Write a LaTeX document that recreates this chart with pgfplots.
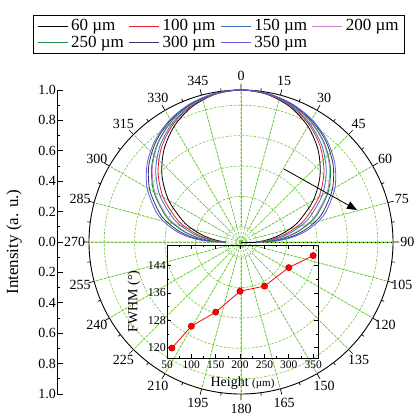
\documentclass[border=0pt]{standalone}
\usepackage{fontspec}
\setmainfont{Liberation Serif}
\usepackage{pgfplots}
\pgfplotsset{compat=1.18}
\usepackage{pgfplotstable}
\usepgfplotslibrary{polar}
\usetikzlibrary{arrows.meta}

\definecolor{gridgreen}{RGB}{110,200,60}
\definecolor{c60}{RGB}{0,0,0}
\definecolor{c100}{RGB}{235,30,50}
\definecolor{c150}{RGB}{60,110,200}
\definecolor{c200}{RGB}{200,130,200}
\definecolor{c250}{RGB}{30,140,70}
\definecolor{c300}{RGB}{50,50,110}
\definecolor{c350}{RGB}{100,90,220}

\pgfplotstableread{
phi a b c d e f g
0 0.1 0.1 0.1 0.1 0.1 0.1 0.1
1 0.1157 0.1264 0.1356 0.1533 0.1584 0.1800 0.1963
3 0.1471 0.1687 0.1855 0.2148 0.2227 0.2542 0.2766
6 0.1941 0.2256 0.2485 0.2861 0.2958 0.3332 0.3587
10 0.2563 0.2956 0.3226 0.3652 0.3758 0.4159 0.4424
15 0.3329 0.3769 0.4061 0.4504 0.4612 0.5011 0.5268
20 0.4078 0.4531 0.4823 0.5256 0.5360 0.5738 0.5978
30 0.5500 0.5917 0.6176 0.6548 0.6635 0.6946 0.7139
40 0.6785 0.7122 0.7325 0.7611 0.7677 0.7910 0.8052
50 0.7894 0.8134 0.8276 0.8472 0.8517 0.8674 0.8769
60 0.8794 0.8939 0.9024 0.9140 0.9167 0.9258 0.9313
70 0.9457 0.9525 0.9564 0.9618 0.9630 0.9671 0.9696
80 0.9863 0.9881 0.9891 0.9904 0.9907 0.9918 0.9924
90 1 1 1 1 1 1 1
100 0.9863 0.9881 0.9891 0.9904 0.9907 0.9918 0.9924
110 0.9457 0.9525 0.9564 0.9618 0.9630 0.9671 0.9696
120 0.8794 0.8939 0.9024 0.9140 0.9167 0.9258 0.9313
130 0.7894 0.8134 0.8276 0.8472 0.8517 0.8674 0.8769
140 0.6785 0.7122 0.7325 0.7611 0.7677 0.7910 0.8052
150 0.5500 0.5917 0.6176 0.6548 0.6635 0.6946 0.7139
160 0.4078 0.4531 0.4823 0.5256 0.5360 0.5738 0.5978
165 0.3329 0.3769 0.4061 0.4504 0.4612 0.5011 0.5268
170 0.2563 0.2956 0.3226 0.3652 0.3758 0.4159 0.4424
174 0.1941 0.2256 0.2485 0.2861 0.2958 0.3332 0.3587
177 0.1471 0.1687 0.1855 0.2148 0.2227 0.2542 0.2766
179 0.1157 0.1264 0.1356 0.1533 0.1584 0.1800 0.1963
180 0.1 0.1 0.1 0.1 0.1 0.1 0.1
}\curves

\begin{document}
\begin{tikzpicture}[x=1pt,y=1pt]
% left intensity axis
\begin{axis}[at={(57pt,21pt)}, anchor=south west, scale only axis,
  width=10pt, height=304pt, xmin=0, xmax=1, ymin=-1, ymax=1,
  hide x axis, axis y line*=left,
  /pgf/number format/assume math mode=true,
  ytick={-1,-0.8,-0.6,-0.4,-0.2,0,0.2,0.4,0.6,0.8,1},
  yticklabels={1.0,0.8,0.6,0.4,0.2,0.0,0.2,0.4,0.6,0.8,1.0},
  minor y tick num=1, tick align=inside,
  major tick length=6pt, minor tick length=3pt,
  ytick style={black, line width=0.7pt},
  axis line style={black, line width=0.8pt},
  yticklabel style={font=\fontsize{14}{16}\selectfont, inner sep=1pt},
  ylabel={Intensity (a. u.)},
  every axis y label/.style={at={(axis description cs:0,0.5)}, xshift=-43pt, rotate=90, anchor=center, font=\fontsize{17}{20}\selectfont},
]
\end{axis}

% polar plot
\begin{polaraxis}[at={(241pt,173pt)}, anchor=center, scale only axis,
  width=304pt, height=304pt, clip=false,
  xmin=0, xmax=360, ymin=0, ymax=1,
  xtick={0,15,...,345}, minor xtick={7.5,22.5,...,352.5}, xticklabels={},
  ytick={0.1,0.3,0.5,0.7,0.9}, yticklabels={},
  ymajorgrids,
  major grid style={gridgreen, dash pattern=on 2.5pt off 1.5pt, line width=0.6pt},
  tick align=inside, major tick length=6pt, minor tick length=3pt,
  xtick style={black, line width=0.7pt}, ytick style={draw=none},
  axis line style={black, line width=0.9pt},
  legend columns=4,
  legend cell align=left,
  legend image code/.code={\draw[#1, line width=0.8pt] (0pt,0pt) -- (30pt,0pt);},
  legend style={at={(axis description cs:0.4276,1.1826)}, anchor=center,
    font=\fontsize{17}{19}\selectfont, draw=black, line width=0.8pt,
    inner xsep=4pt, inner ysep=2pt,
    /tikz/every even column/.append style={column sep=3pt},
    /tikz/every odd column/.append style={column sep=1pt}},
]
\pgfplotsinvokeforeach{0,15,...,345}{
  \addplot[gridgreen, dash pattern=on 2.5pt off 1.5pt, line width=0.6pt, forget plot] coordinates {(#1,0.1) (#1,1)};
}
\addplot[c60, line width=0.8pt, smooth] table[x=phi, y=a] {\curves};
\addlegendentry{60 µm}
\addplot[c100, line width=0.8pt, smooth] table[x=phi, y=b] {\curves};
\addlegendentry{100 µm}
\addplot[c150, line width=0.8pt, smooth] table[x=phi, y=c] {\curves};
\addlegendentry{150 µm}
\addplot[c200, line width=0.8pt, smooth] table[x=phi, y=d] {\curves};
\addlegendentry{200 µm}
\addplot[c250, line width=0.8pt, smooth] table[x=phi, y=e] {\curves};
\addlegendentry{250 µm}
\addplot[c300, line width=0.8pt, smooth] table[x=phi, y=f] {\curves};
\addlegendentry{300 µm}
\addplot[c350, line width=0.8pt, smooth] table[x=phi, y=g] {\curves};
\addlegendentry{350 µm}
\pgfplotsinvokeforeach{0,15,...,345}{
  \node[font=\fontsize{14}{16}\selectfont, inner sep=0pt] at (axis cs:#1,1.095) {\pgfmathparse{int(mod(450-#1,360))}\pgfmathresult};
}
\end{polaraxis}

% inset
\begin{axis}[at={(167pt,57pt)}, anchor=south west, scale only axis,
  width=151pt, height=113pt,
  xmin=50, xmax=360, ymin=117, ymax=150,
  /pgf/number format/assume math mode=true,
  xtick={50,100,...,350}, ytick={120,128,136,144},
  minor x tick num=1, minor y tick num=1,
  tick align=inside, tick pos=both,
  major tick length=4pt, minor tick length=2pt,
  tick style={black, line width=0.6pt},
  axis line style={black, line width=0.9pt},
  yticklabel style={font=\fontsize{12}{14}\selectfont, inner sep=1pt},
  xticklabel style={font=\fontsize{11.5}{13}\selectfont, inner xsep=0pt, inner ysep=3pt},
  xlabel={Height {\fontsize{11}{12}\selectfont(µm)}},
  ylabel={FWHM (°)},
  label style={font=\fontsize{14}{16}\selectfont},
  xlabel style={yshift=-1pt},
  ylabel style={yshift=3pt},
]
\addplot[red, line width=0.8pt, mark=*, mark size=3pt, mark options={fill=red, draw=red!80!black}]
  coordinates {(60,119.9) (100,126.3) (150,130.4) (200,136.5) (250,138.0) (300,143.4) (350,146.9)};
\end{axis}

\draw[-{Triangle[length=10pt,width=8pt]}, line width=0.8pt] (284,246) -- (357,205);

\pgfresetboundingbox
\path[use as bounding box] (0,0) rectangle (417,415);
\end{tikzpicture}
\end{document}
